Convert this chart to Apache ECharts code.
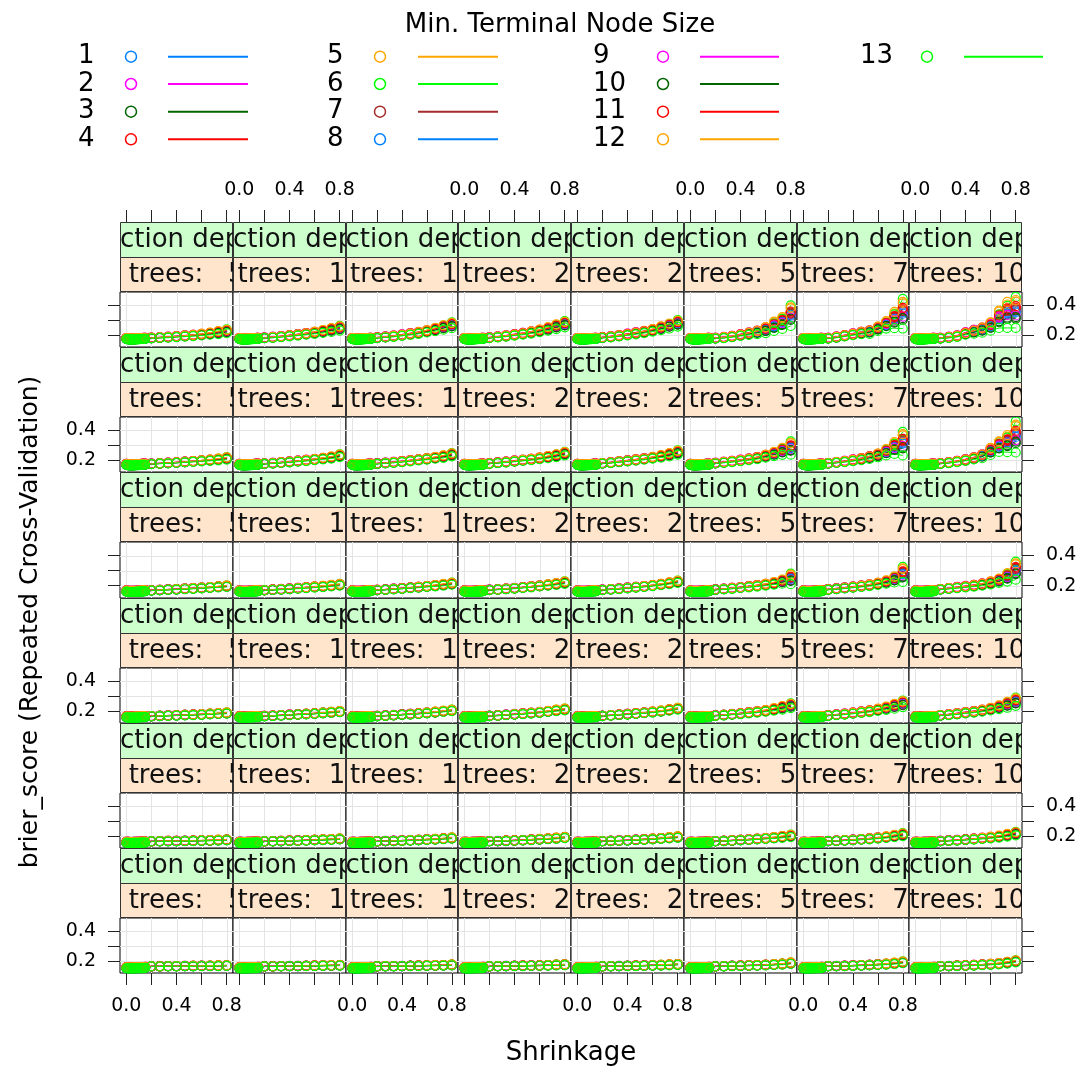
<!DOCTYPE html>
<html><head><meta charset="utf-8">
<script src="https://cdn.jsdelivr.net/npm/echarts@6/dist/echarts.min.js"></script>
<style>html,body{margin:0;padding:0;background:#fff}#c{width:1084px;height:1074px}</style>
</head><body><div id="c"></div>
<script>
// ---------------- data ----------------
const shrinkage = [0.001,0.01,0.02,0.03,0.04,0.05,0.06,0.07,0.08,0.09,0.10,0.11,0.12,0.13,0.14,0.15,
                   0.20,0.267,0.333,0.40,0.467,0.533,0.60,0.667,0.733,0.80];
const nTrees = [50,100,150,200,250,500,750,1000];
const depths = [6,5,4,3,2,1];            // panel rows, top to bottom
const nodeSizes = [1,2,3,4,5,6,7,8,9,10,11,12,13];
const nodeColors = ['#0080ff','#ff00ff','#006400','#ff0000','#ffa500','#00ff00','#a52a2a',
                    '#0080ff','#ff00ff','#006400','#ff0000','#ffa500','#00ff00'];
const xTicks = [0,0.2,0.4,0.6,0.8];
const xTickLabels = [0,0.4,0.8];
const yTicks = [0.2,0.3,0.4];
const yTickLabels = [0.2,0.4];

// brier score (x1000) of the dense low-shrinkage band (shrinkage 0.001 ... 0.15), by depth
const bandDepth6 = [176,174,173,172,172,172,173,173,174,174,175,175,176,176,177,177];
const bandDepth5 = [170,168,167,166,166,166,167,167,168,168,169,169,170,170,171,171];
const bandDepth4 = [165,163,162,162,162,162,162,163,163,164,164,165,165,166,166,167];
const bandDepth3 = [160,159,158,158,158,158,158,159,159,159,160,160,161,161,162,162];
const bandDepth2 = [157,156,156,155,155,155,156,156,156,157,157,157,158,158,158,159];
const bandDepth1 = [154,153,153,153,153,153,153,154,154,154,154,155,155,155,155,156];
// offset (x1000) of each node size inside that band
const nodeBandOffset = [2,3,-2,3,1,0,-1,-2,2,-3,1,2,-4];

// middle of each panel's cluster (x1000) at shrinkage 0.2 ... 0.8, one array per n.trees
const midDepth6 = [[179,182,185,189,193,197,202,208,215,224],[180,184,189,195,201,208,215,223,233,245],[181,186,192,199,207,215,225,236,250,265],[181,187,193,201,209,218,228,240,255,272],[182,188,195,203,212,221,232,245,260,278],[178,183,190,200,210,220,235,258,280,330],[178,185,195,205,215,222,243,268,300,343],[178,184,192,210,224,237,260,305,335,352]];
const midDepth5 = [[173,176,179,182,186,190,194,198,203,210],[174,178,182,187,192,197,203,209,216,228],[175,179,184,189,195,201,207,214,222,235],[176,181,186,192,198,204,211,219,228,243],[177,182,188,194,200,207,215,224,234,250],[178,184,190,197,205,214,226,240,258,280],[177,183,190,198,207,218,232,252,280,310],[176,182,190,200,212,228,260,290,310,355]];
const midDepth4 = [[169,171,174,176,179,182,185,188,192,196],[170,173,176,179,183,187,191,195,200,206],[171,174,178,182,186,190,195,200,206,213],[172,175,179,183,188,193,198,204,211,220],[172,176,180,185,190,195,201,208,216,226],[174,178,183,188,194,200,207,215,227,245],[175,180,185,191,197,204,213,224,241,275],[176,182,188,194,201,209,219,233,255,300]];
const midDepth3 = [[164,166,168,170,172,174,176,179,182,185],[165,167,170,173,176,179,182,186,190,195],[165,168,171,175,178,182,186,191,197,203],[166,169,173,177,181,185,190,196,203,210],[166,170,174,178,182,187,192,198,206,215],[168,172,177,182,188,194,201,210,221,235],[169,174,179,185,192,199,208,218,231,248],[170,175,181,188,195,203,213,225,241,262]];
const midDepth2 = [[163,164,165,165,166,167,168,169,171,173],[163,164,165,167,168,170,172,174,176,179],[163,165,166,168,170,172,175,177,181,185],[164,165,167,169,171,174,177,180,184,189],[164,166,168,170,173,176,179,183,187,192],[164,166,169,172,175,179,183,187,193,200],[165,167,170,173,177,181,186,191,199,208],[165,168,171,175,179,184,189,195,204,215]];
const midDepth1 = [[163,163,164,164,165,165,166,166,167,168],[163,163,164,165,165,166,167,168,169,170],[163,164,164,165,166,167,168,169,170,172],[163,164,165,166,167,168,169,170,172,174],[163,164,165,166,167,168,170,171,173,176],[163,164,166,167,169,170,172,175,178,184],[164,165,166,168,170,172,175,178,183,190],[164,165,167,169,171,174,177,181,188,197]];

// half-height of each panel's cluster (x1000) at shrinkage 0.2 ... 0.8
const spreadDepth6 = [[3,3,4,4,5,6,7,8,10,13],[3,4,4,5,6,7,9,11,13,16],[3,4,5,6,7,8,10,12,15,20],[4,4,5,6,7,9,11,13,16,21],[4,5,6,7,8,9,11,14,17,22],[4,5,6,8,10,15,25,35,40,70],[4,5,6,8,10,15,18,28,55,100],[4,5,6,10,16,22,35,65,88,105]];
const spreadDepth5 = [[2,2,3,3,3,4,4,5,6,8],[2,3,3,4,4,5,5,6,7,9],[3,3,4,4,5,5,6,7,8,11],[3,3,4,5,5,6,7,8,10,12],[3,4,4,5,6,6,7,9,11,14],[3,4,5,6,7,9,12,16,24,45],[3,4,5,7,9,12,16,24,40,80],[3,4,5,7,9,17,30,40,58,105]];
const spreadDepth4 = [[2,2,2,2,3,3,3,3,4,5],[2,2,3,3,3,4,4,5,5,6],[2,2,3,3,3,4,4,5,6,7],[2,2,3,3,3,4,4,5,6,8],[2,2,3,3,3,4,4,5,6,8],[3,3,4,4,5,6,7,9,14,35],[3,4,4,5,6,7,9,12,20,50],[3,4,5,6,7,9,12,16,28,60]];
const spreadDepth3 = [[2,2,2,2,2,3,3,3,3,4],[2,2,2,2,2,3,3,3,4,4],[2,2,2,2,3,3,3,4,4,5],[2,2,2,3,3,3,4,4,5,6],[2,2,2,3,3,3,4,4,5,6],[2,3,3,4,5,6,7,9,12,16],[3,3,4,5,6,7,9,12,16,22],[3,4,5,6,7,9,11,14,20,28]];
const spreadDepth2 = [[1,1,2,2,2,2,2,2,3,3],[1,1,2,2,2,2,2,3,3,3],[1,1,2,2,2,2,3,3,3,4],[1,1,2,2,2,3,3,3,4,4],[1,2,2,2,2,3,3,3,4,5],[1,2,2,2,3,3,4,5,6,8],[1,2,2,3,3,4,5,6,8,10],[2,2,3,3,4,5,6,7,9,12]];
const spreadDepth1 = [[1,1,1,1,1,2,2,2,2,2],[1,1,1,1,1,2,2,2,2,2],[1,1,1,1,1,2,2,2,2,3],[1,1,1,1,2,2,2,2,3,3],[1,1,1,1,2,2,2,3,3,3],[1,1,1,2,2,2,3,3,4,5],[1,1,2,2,2,3,3,4,5,6],[1,1,2,2,3,3,4,5,6,7]];

// relative position of each node size inside a cluster (-1 bottom ... 1 top), at shrinkage 0.2 ... 0.8
const nodePosition = [
 [ 0.1, 0.2, 0.0, 0.1, 0.2, 0.1, 0.0, 0.1, 0.2, 0.1],
 [ 0.4, 0.5, 0.6, 0.5, 0.4, 0.5, 0.4, 0.3, 0.3, 0.2],
 [-0.3,-0.2,-0.3,-0.4,-0.3,-0.2,-0.3,-0.2,-0.3,-0.4],
 [ 0.6, 0.5, 0.4, 0.5, 0.6, 0.5, 0.6, 0.5, 0.4, 0.3],
 [ 0.3, 0.3, 0.4, 0.5, 0.5, 0.6, 0.7, 0.8, 0.8, 0.7],
 [ 0.0, 0.1, 0.2, 0.2, 0.3, 0.3, 0.4, 0.5, 0.7, 1.0],
 [-0.1, 0.0,-0.1, 0.0, 0.1, 0.0, 0.1, 0.2, 0.3, 0.2],
 [-0.2,-0.3,-0.2,-0.1,-0.2,-0.1, 0.0, 0.0, 0.1, 0.0],
 [ 0.5, 0.6, 0.7, 0.7, 0.6, 0.5, 0.4, 0.2, 0.0,-0.2],
 [-0.5,-0.6,-0.5,-0.5,-0.4,-0.4,-0.3,-0.3,-0.2,-0.3],
 [ 0.2, 0.1, 0.2, 0.3, 0.2, 0.3, 0.2, 0.4, 0.5, 0.4],
 [ 0.2, 0.3, 0.3, 0.2, 0.3, 0.4, 0.6, 0.9, 1.0, 0.8],
 [-0.8,-0.9,-1.0,-0.9,-1.0,-1.0,-0.9,-0.9,-1.0,-1.0]
];

const bandByDepth = {6:bandDepth6,5:bandDepth5,4:bandDepth4,3:bandDepth3,2:bandDepth2,1:bandDepth1};
const midByDepth = {6:midDepth6,5:midDepth5,4:midDepth4,3:midDepth3,2:midDepth2,1:midDepth1};
const spreadByDepth = {6:spreadDepth6,5:spreadDepth5,4:spreadDepth4,3:spreadDepth3,2:spreadDepth2,1:spreadDepth1};

// ---------------- layout ----------------
const FONT = 'DejaVu Sans';
const PL = 120, PR = 1022, PT = 222, PB = 973;
const colEdges = [0,1,2,3,4,5,6,7,8].map(i => Math.round(PL + i * (PR - PL) / 8));
const rowEdges = [0,1,2,3,4,5,6].map(i => Math.round(PT + i * (PB - PT) / 6));
const stripH = 35;
const XMIN = -0.05, XMAX = 0.85, YMIN = 0.118, YMAX = 0.490;
const tickStyle = {color:'#222', width:1};
const fmt1 = v => Number(v).toFixed(1);

const grids = [], xAxes = [], yAxes = [], series = [];

function stripRenderer(depthText, treeText) {
  return function (params, api) {
    const cs = params.coordSys;
    const x = cs.x, y = cs.y, w = cs.width, h = cs.height, h1 = h / 2;
    const font = '26px "' + FONT + '"';
    return {type:'group', children:[
      {type:'rect', shape:{x:x+0.5, y:y+0.5, width:w-1, height:h1}, style:{fill:'#ccffcc', stroke:'#333', lineWidth:1}},
      {type:'text', style:{text:depthText, x:x + w/2 - 4, y:y+h1/2+1, align:'center', verticalAlign:'middle', fill:'#111', font:font}},
      {type:'rect', shape:{x:x+0.5, y:y+h1+0.5, width:w-1, height:h1-1}, style:{fill:'#ffe5cc', stroke:'#333', lineWidth:1}},
      {type:'text', style:{text:treeText, x:x + w/2 + 6, y:y+h1+h1/2+1, align:'center', verticalAlign:'middle', fill:'#111', font:font}}
    ]};
  };
}

function gridLineRenderer(params, api) {
  const ch = [];
  xTicks.forEach(v => {
    const a = api.coord([v, YMIN]), b = api.coord([v, YMAX]);
    ch.push({type:'line', shape:{x1:Math.round(a[0])+0.5, y1:a[1], x2:Math.round(b[0])+0.5, y2:b[1]}, style:{stroke:'#e4e4e4', lineWidth:1}});
  });
  yTicks.forEach(v => {
    const a = api.coord([XMIN, v]), b = api.coord([XMAX, v]);
    ch.push({type:'line', shape:{x1:a[0], y1:Math.round(a[1])+0.5, x2:b[0], y2:Math.round(b[1])+0.5}, style:{stroke:'#e4e4e4', lineWidth:1}});
  });
  return {type:'group', children:ch};
}

const treeFmt = nTrees.map(n => 'n trees: ' + String(n).padStart(4, ' '));

depths.forEach((d, r) => {
  nTrees.forEach((nt, c) => {
    const left = colEdges[c], width = colEdges[c+1] - colEdges[c];
    const top = rowEdges[r], height = rowEdges[r+1] - rowEdges[r];
    // ---- strip grid ----
    const sg = grids.length;
    grids.push({left:left, top:top, width:width, height:2*stripH, show:false});
    xAxes.push({gridIndex:sg, type:'value', min:XMIN, max:XMAX, show:r===0, position:'top',
      axisLine:{show:false, onZero:false}, splitLine:{show:false},
      axisTick:{show:true, inside:false, length:12, customValues:xTicks, lineStyle:tickStyle},
      axisLabel:{show:c%2===1, customValues:xTickLabels, formatter:fmt1, margin:22, fontSize:19, fontFamily:FONT, color:'#000'}});
    yAxes.push({gridIndex:sg, type:'value', min:0, max:1, show:false, axisLine:{onZero:false}});
    series.push({type:'custom', xAxisIndex:sg, yAxisIndex:sg, clip:true, silent:true, z:3,
      data:[[0.4,0.5]], renderItem:stripRenderer('interaction depth: ' + d, treeFmt[c]), animation:false});
    // ---- plot grid ----
    const pg = grids.length;
    grids.push({left:left, top:top+2*stripH, width:width, height:height-2*stripH, show:true, borderColor:'#000', borderWidth:1, backgroundColor:'#fff'});
    xAxes.push({gridIndex:pg, type:'value', min:XMIN, max:XMAX, show:r===5, position:'bottom',
      axisLine:{show:false, onZero:false}, splitLine:{show:false},
      axisTick:{show:true, inside:false, length:12, customValues:xTicks, lineStyle:tickStyle},
      axisLabel:{show:c%2===0, customValues:xTickLabels, formatter:fmt1, margin:24, fontSize:19, fontFamily:FONT, color:'#000'}});
    yAxes.push({gridIndex:pg, type:'value', min:YMIN, max:YMAX, show:(c===0||c===7), position:c===7?'right':'left',
      axisLine:{show:false, onZero:false}, splitLine:{show:false},
      axisTick:{show:true, inside:false, length:12, customValues:yTicks, lineStyle:tickStyle},
      axisLabel:{show:(c===0 && r%2===1)||(c===7 && r%2===0), customValues:yTickLabels, formatter:fmt1, margin:24, fontSize:19, fontFamily:FONT, color:'#000'}});
    series.push({type:'custom', xAxisIndex:pg, yAxisIndex:pg, silent:true, z:1, data:[[0,0.3]], renderItem:gridLineRenderer, animation:false});
    const band = bandByDepth[d], mid = midByDepth[d][c], spr = spreadByDepth[d][c];
    nodeSizes.forEach((ns, s) => {
      const ys = band.map(b => b + nodeBandOffset[s]).concat(mid.map((m, i) => m + nodePosition[s][i] * spr[i]));
      series.push({type:'line', name:String(ns), xAxisIndex:pg, yAxisIndex:pg, z:2, clip:false,
        data:shrinkage.map((x, i) => [x, ys[i] / 1000]),
        symbol:'circle', symbolSize:9, showSymbol:true,
        itemStyle:{color:'rgba(0,0,0,0)', borderColor:nodeColors[s], borderWidth:1.2},
        lineStyle:{color:nodeColors[s], width:1},
        emphasis:{disabled:true}, animation:false, silent:true});
    });
  });
});

// ---------------- legend / titles ----------------
const graphics = [];
const legendCols = [{lx:78,cx:131,l0:168,l1:248},{lx:327,cx:380,l0:418,l1:498},{lx:593,cx:663,l0:700,l1:779},{lx:860,cx:927,l0:964,l1:1043}];
const legendRowsY = [56.7, 84, 111.7, 139.3];
graphics.push({type:'text', x:560, y:25, style:{text:'Min. Terminal Node Size', font:'26px "'+FONT+'"', fill:'#000', align:'center', verticalAlign:'middle', textAlign:'center', textVerticalAlign:'middle'}});
nodeSizes.forEach((ns, i) => {
  const col = legendCols[Math.floor(i/4)], y = legendRowsY[i%4];
  graphics.push({type:'text', x:col.lx, y:y, style:{text:String(ns), font:'26px "'+FONT+'"', fill:'#000', align:'left', verticalAlign:'middle', textAlign:'left', textVerticalAlign:'middle'}});
  graphics.push({type:'circle', shape:{cx:col.cx, cy:y, r:5.5}, style:{fill:'none', stroke:nodeColors[i], lineWidth:1.5}});
  graphics.push({type:'line', shape:{x1:col.l0, y1:y, x2:col.l1, y2:y}, style:{stroke:nodeColors[i], lineWidth:2}});
});
graphics.push({type:'text', x:571, y:1053, style:{text:'Shrinkage', font:'26px "'+FONT+'"', fill:'#000', align:'center', verticalAlign:'middle', textAlign:'center', textVerticalAlign:'middle'}});
graphics.push({type:'text', x:30, y:622, rotation:Math.PI/2, style:{text:'brier_score (Repeated Cross-Validation)', font:'25px "'+FONT+'"', fill:'#000', align:'center', verticalAlign:'middle', textAlign:'center', textVerticalAlign:'middle'}});

const chart = echarts.init(document.getElementById('c'), null, {renderer:'canvas', width:1084, height:1074});
chart.setOption({
  animation:false,
  backgroundColor:'#fff',
  textStyle:{fontFamily:FONT},
  grid:grids, xAxis:xAxes, yAxis:yAxes, series:series,
  graphic:{elements:graphics}
});
</script></body></html>
